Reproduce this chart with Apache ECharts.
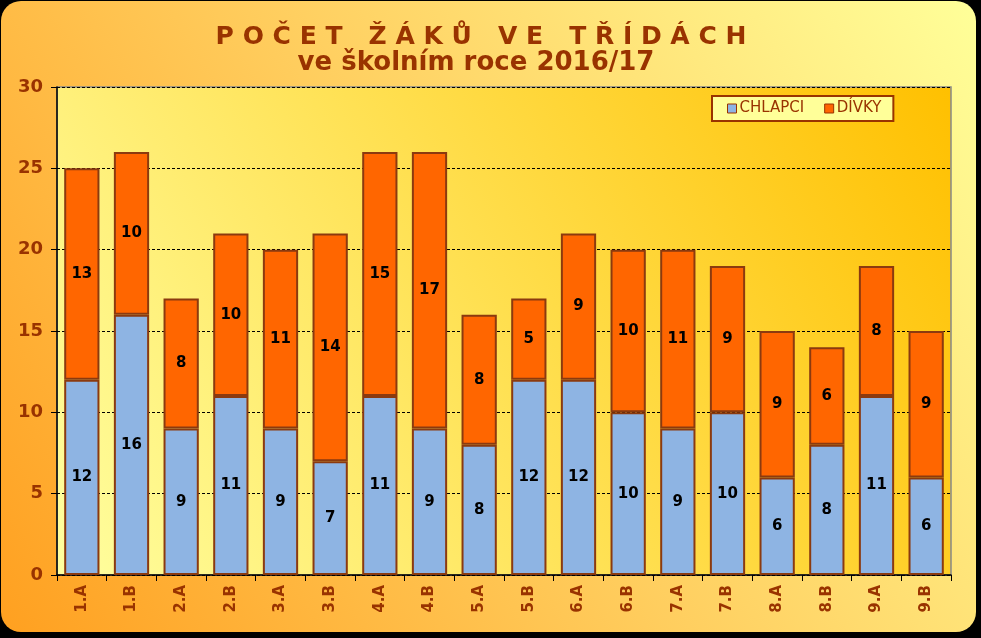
<!DOCTYPE html>
<html><head><meta charset="utf-8">
<script src="https://cdn.jsdelivr.net/npm/echarts@6/dist/echarts.min.js"></script>
<style>html,body{margin:0;padding:0;background:#000;}#c{width:981px;height:638px;}</style>
</head><body><div id="c"></div>
<script>
var categories = ['1.A','1.B','2.A','2.B','3.A','3.B','4.A','4.B','5.A','5.B','6.A','6.B','7.A','7.B','8.A','8.B','9.A','9.B'];
var chlapci = [12,16,9,11,9,7,11,9,8,12,12,10,9,10,6,8,11,6];
var divky = [13,10,8,10,11,14,15,17,8,5,9,10,11,9,9,6,8,9];
var seriesNames = ['CHLAPCI','DÍVKY'];
var titleText = 'P O Č E T   Ž Á K Ů   V E   T Ř Í D Á C H';
var subtitleText = 've školním roce 2016/17';

var brown = '#993300';
var chart = echarts.init(document.getElementById('c'));
var labelStyle = {show:true, position:'inside', color:'#000', fontFamily:'DejaVu Sans', fontWeight:'bold', fontSize:15};
chart.setOption({
  backgroundColor:'#000',
  animation:false,
  graphic:[{
    type:'rect', z:-10, silent:true,
    shape:{x:1,y:1,width:975,height:631,r:20},
    style:{fill:new echarts.graphic.LinearGradient(0,1,1,0,[{offset:0,color:'#FFA020'},{offset:0.5,color:'#FFCF60'},{offset:1,color:'#FFFF99'}])}
  },{
    type:'text', x:481, y:25, z:10,
    style:{text:titleText, fill:brown, font:'bold 25px "DejaVu Sans"', textAlign:'center', textVerticalAlign:'top'}
  },{
    type:'text', x:476, y:50, z:10,
    style:{text:subtitleText, fill:brown, font:'bold 26px "DejaVu Sans"', textAlign:'center', textVerticalAlign:'top'}
  }],
  legend:{
    data:seriesNames, left:712, top:96, orient:'horizontal',
    backgroundColor:'#FFFF99', borderColor:brown, borderWidth:2,
    padding:[5,12,5,15], itemGap:20, itemWidth:9, itemHeight:9, icon:'rect',
    textStyle:{color:brown, fontFamily:'DejaVu Sans', fontSize:15, padding:[0,0,0,-2]},
    itemStyle:{borderColor:brown, borderWidth:1}
  },
  grid:{left:57, right:30, top:87, bottom:63, show:true, borderColor:'#888', borderWidth:1.5,
    backgroundColor:new echarts.graphic.LinearGradient(0,1,1,0,[{offset:0,color:'#FFFFA0'},{offset:1,color:'#FFC000'}])},
  xAxis:{
    type:'category', data:categories,
    axisLine:{lineStyle:{color:'#000', width:1.5}},
    axisTick:{show:true, length:6, lineStyle:{color:'#000'}},
    axisLabel:{rotate:90, color:brown, fontFamily:'DejaVu Sans', fontWeight:'bold', fontSize:15, margin:10}
  },
  yAxis:{
    type:'value', min:0, max:30, interval:5,
    axisLine:{show:true, lineStyle:{color:'#000', width:1.5}},
    axisTick:{show:true, length:6, lineStyle:{color:'#000'}},
    axisLabel:{color:brown, fontFamily:'DejaVu Sans', fontWeight:'bold', fontSize:18, margin:14},
    splitLine:{lineStyle:{color:'#000', type:[3,2], width:1}}
  },
  series:[{
    name:seriesNames[0], type:'bar', stack:'a', data:chlapci, barWidth:'71%',
    itemStyle:{color:'#8EB4E3', borderColor:'#8B3A0F', borderWidth:2},
    label:labelStyle
  },{
    name:seriesNames[1], type:'bar', stack:'a', data:divky, barWidth:'71%',
    itemStyle:{color:'#FF6600', borderColor:'#8B3A0F', borderWidth:2},
    label:labelStyle
  }]
});
</script></body></html>
